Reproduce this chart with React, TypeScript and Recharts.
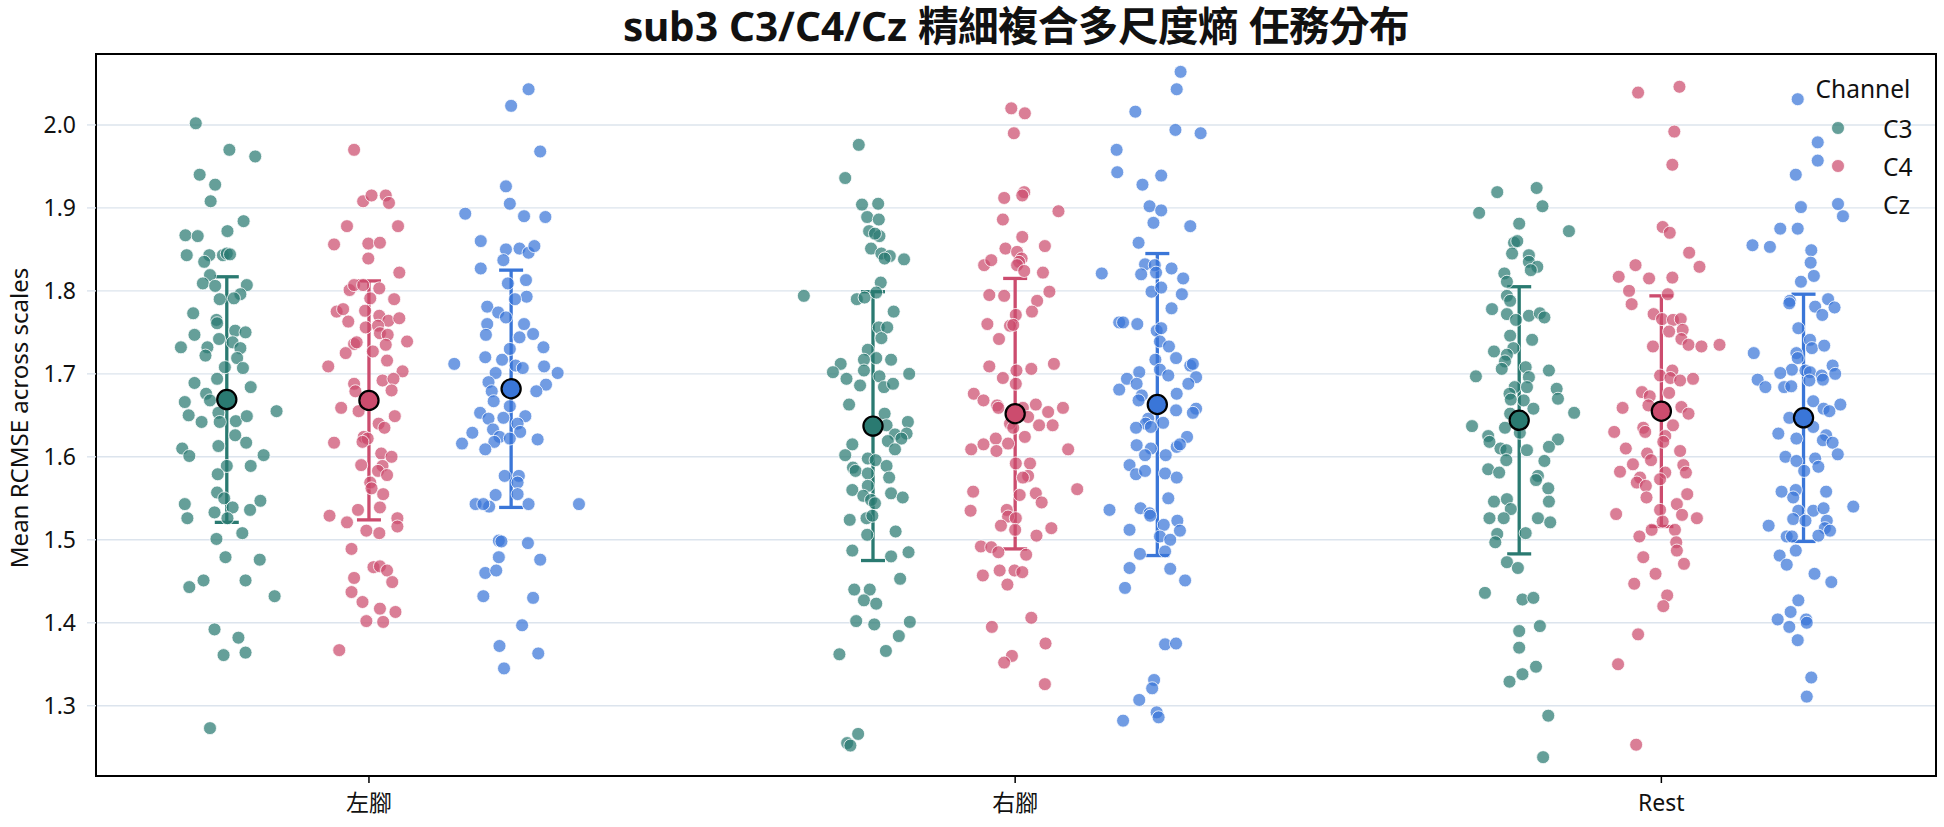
import React from 'react';
import { ScatterChart, Scatter, XAxis, YAxis, CartesianGrid, ErrorBar, ReferenceArea } from 'recharts';

const TITLE = 'sub3 C3/C4/Cz 精細複合多尺度熵 任務分布';
const Y_LABEL = 'Mean RCMSE across scales';
const LEGEND_TITLE = 'Channel';
const CATEGORIES = ['左腳', '右腳', 'Rest'];
const CHANNELS = ['C3', 'C4', 'Cz'];
const Y_TICKS = [1.3, 1.4, 1.5, 1.6, 1.7, 1.8, 1.9, 2.0];
const X_TICKS = [0, 1, 2];

// mean and SD per category (左腳, 右腳, Rest)
const C3_MEAN = [1.669, 1.637, 1.644];
const C3_SD = [0.148, 0.162, 0.161];
const C4_MEAN = [1.668, 1.652, 1.655];
const C4_SD = [0.144, 0.163, 0.139];
const CZ_MEAN = [1.682, 1.663, 1.647];
const CZ_SD = [0.143, 0.182, 0.149];

// individual trials: [jitter (category units), value]
const LEFT_C3: [number, number][] = [[-0.048,2.002],[0.004,1.970],[0.044,1.962],[-0.042,1.940],[-0.018,1.928],[-0.025,1.908],[0.026,1.884],[-0.064,1.867],[-0.045,1.866],[0.001,1.872],[-0.062,1.843],[-0.027,1.843],[-0.035,1.835],[-0.006,1.843],[0,1.845],[0.005,1.844],[-0.026,1.819],[-0.037,1.809],[-0.018,1.806],[0.031,1.807],[0.021,1.796],[-0.011,1.790],[0.011,1.791],[-0.052,1.773],[-0.016,1.765],[-0.015,1.761],[-0.050,1.747],[0.013,1.752],[0.029,1.750],[-0.071,1.732],[-0.030,1.732],[-0.012,1.742],[0.009,1.738],[0.021,1.731],[-0.033,1.722],[0.016,1.719],[-0.003,1.708],[0.025,1.707],[-0.050,1.689],[-0.032,1.676],[-0.015,1.694],[0.037,1.684],[-0.065,1.666],[-0.059,1.650],[-0.039,1.642],[-0.026,1.668],[-0.013,1.653],[-0.011,1.642],[0.014,1.643],[0.031,1.649],[0.077,1.655],[0.013,1.626],[-0.013,1.613],[0.030,1.617],[-0.069,1.610],[-0.058,1.601],[0.057,1.602],[0,1.589],[0.037,1.589],[-0.014,1.579],[-0.015,1.557],[-0.004,1.550],[-0.065,1.543],[0.009,1.539],[0.036,1.536],[0.052,1.547],[-0.061,1.526],[-0.019,1.533],[0.001,1.526],[-0.016,1.501],[0.024,1.508],[-0.002,1.479],[0.051,1.476],[-0.036,1.451],[-0.058,1.443],[0.029,1.451],[0.074,1.432],[-0.019,1.392],[0.018,1.382],[-0.005,1.361],[0.029,1.364],[-0.026,1.273]];
const LEFT_C4: [number, number][] = [[-0.023,1.970],[-0.009,1.908],[0.004,1.915],[0.026,1.915],[0.031,1.906],[-0.034,1.878],[0.045,1.878],[-0.054,1.856],[-0.001,1.857],[0.017,1.858],[-0.001,1.839],[0.047,1.822],[-0.030,1.801],[-0.023,1.807],[-0.009,1.807],[0.016,1.803],[0.002,1.791],[0.039,1.790],[-0.050,1.775],[-0.040,1.778],[-0.032,1.763],[-0.006,1.776],[0.016,1.770],[0.030,1.764],[0.047,1.767],[-0.005,1.756],[0.014,1.758],[0.017,1.749],[0.029,1.747],[-0.023,1.736],[-0.019,1.738],[0.006,1.727],[0.026,1.735],[0.059,1.739],[-0.036,1.725],[-0.063,1.709],[0.028,1.716],[0.052,1.703],[-0.023,1.688],[-0.021,1.679],[0.021,1.692],[0.038,1.694],[0.035,1.680],[-0.043,1.659],[-0.016,1.655],[0.040,1.649],[0.015,1.640],[0.024,1.635],[-0.008,1.624],[-0.002,1.622],[-0.054,1.617],[-0.010,1.618],[0.019,1.604],[0.035,1.600],[-0.012,1.590],[0.021,1.589],[0.014,1.583],[0.028,1.578],[0.002,1.569],[0.004,1.562],[0.022,1.555],[-0.017,1.536],[0.017,1.539],[-0.061,1.529],[-0.034,1.521],[0.044,1.526],[0.044,1.516],[-0.004,1.511],[0.016,1.508],[-0.027,1.489],[0.007,1.467],[0.017,1.468],[0.028,1.463],[-0.023,1.454],[0.036,1.449],[-0.027,1.437],[-0.010,1.425],[0.017,1.417],[0.041,1.413],[-0.004,1.402],[0.022,1.401],[-0.046,1.367]];
const LEFT_CZ: [number, number][] = [[0.027,2.043],[0,2.023],[0.045,1.968],[-0.008,1.926],[-0.002,1.905],[-0.071,1.893],[0.020,1.890],[0.053,1.889],[-0.047,1.860],[-0.008,1.850],[0.013,1.851],[0.027,1.846],[0.036,1.854],[-0.012,1.837],[-0.047,1.827],[-0.005,1.809],[0.023,1.813],[0.024,1.793],[0.006,1.790],[-0.037,1.781],[-0.020,1.774],[-0.008,1.768],[-0.037,1.760],[0.020,1.760],[-0.039,1.747],[0.013,1.744],[0.034,1.748],[0.050,1.732],[-0.002,1.730],[-0.088,1.712],[-0.040,1.720],[-0.014,1.717],[0.007,1.710],[0.018,1.707],[0.051,1.709],[0.072,1.701],[-0.024,1.701],[-0.035,1.690],[0.054,1.687],[0.039,1.679],[-0.030,1.679],[-0.027,1.667],[-0.002,1.661],[-0.048,1.653],[0.022,1.649],[-0.035,1.646],[-0.012,1.647],[0.010,1.640],[-0.060,1.629],[-0.028,1.633],[-0.018,1.624],[0.014,1.630],[-0.002,1.622],[0.041,1.621],[-0.076,1.616],[-0.026,1.618],[-0.040,1.609],[-0.010,1.577],[0.012,1.577],[0.010,1.569],[0.010,1.555],[-0.024,1.554],[-0.055,1.543],[-0.034,1.540],[-0.043,1.543],[0.027,1.543],[0.105,1.543],[-0.019,1.499],[-0.015,1.498],[0.026,1.496],[-0.019,1.479],[0.045,1.476],[-0.040,1.460],[-0.023,1.463],[-0.043,1.432],[0.034,1.430],[0.017,1.397],[-0.018,1.372],[0.042,1.363],[-0.011,1.345]];
const RIGHT_C3: [number, number][] = [[-0.022,1.976],[-0.043,1.936],[-0.017,1.904],[0.008,1.905],[-0.009,1.889],[0.009,1.886],[-0.006,1.872],[0.010,1.866],[0.003,1.869],[-0.003,1.851],[0.013,1.845],[0.026,1.842],[0.018,1.839],[0.048,1.838],[0.012,1.810],[-0.107,1.794],[-0.025,1.790],[-0.013,1.792],[0.005,1.798],[0.032,1.775],[0.009,1.756],[0.022,1.756],[0.013,1.743],[-0.008,1.729],[0.005,1.719],[-0.014,1.717],[0.028,1.717],[-0.050,1.712],[-0.062,1.702],[-0.014,1.704],[0.010,1.697],[0.056,1.700],[-0.041,1.694],[-0.020,1.686],[0.017,1.684],[0.031,1.688],[-0.037,1.663],[0.018,1.652],[0.021,1.638],[0.054,1.642],[0.034,1.627],[0.052,1.628],[0.023,1.619],[0.044,1.622],[0.034,1.609],[-0.032,1.615],[-0.043,1.602],[-0.008,1.598],[0.004,1.596],[-0.031,1.587],[-0.027,1.583],[0.021,1.589],[0.025,1.575],[-0.008,1.580],[-0.008,1.565],[-0.032,1.560],[-0.015,1.553],[0.028,1.556],[0.046,1.551],[-0.003,1.548],[0.003,1.544],[-0.036,1.524],[-0.010,1.526],[-0.001,1.529],[0.035,1.510],[-0.009,1.506],[-0.032,1.487],[0.028,1.480],[0.055,1.485],[0.042,1.453],[-0.029,1.440],[-0.005,1.440],[-0.014,1.427],[0.005,1.423],[-0.026,1.402],[0.002,1.398],[0.057,1.401],[0.040,1.384],[-0.052,1.362],[0.020,1.366],[-0.023,1.266],[-0.040,1.255],[-0.035,1.252]];
const RIGHT_C4: [number, number][] = [[-0.006,2.020],[0.015,2.014],[-0.002,1.990],[0.014,1.919],[0.011,1.915],[-0.017,1.912],[0.067,1.896],[-0.019,1.886],[0.011,1.865],[-0.015,1.851],[0.003,1.847],[0.046,1.854],[-0.048,1.831],[-0.037,1.837],[0.010,1.839],[0.006,1.835],[0.003,1.831],[0.014,1.824],[0.043,1.822],[-0.040,1.795],[-0.017,1.794],[0.053,1.799],[0.034,1.788],[0.001,1.771],[0.026,1.775],[-0.043,1.760],[-0.008,1.758],[-0.003,1.759],[-0.025,1.742],[-0.040,1.709],[0.002,1.704],[0.025,1.706],[0.060,1.712],[-0.019,1.695],[0.001,1.688],[-0.064,1.676],[-0.049,1.668],[-0.028,1.662],[-0.026,1.659],[0.012,1.659],[0.032,1.663],[0.051,1.654],[0.074,1.659],[-0.008,1.640],[0.020,1.648],[0.037,1.638],[0.058,1.638],[-0.003,1.635],[0.015,1.624],[-0.030,1.622],[-0.011,1.616],[-0.068,1.609],[-0.049,1.615],[-0.029,1.607],[0.082,1.609],[0.001,1.592],[0.023,1.592],[0.020,1.577],[0.012,1.575],[-0.065,1.558],[0.007,1.554],[0.032,1.556],[0.041,1.545],[0.096,1.561],[-0.069,1.535],[-0.013,1.536],[-0.011,1.528],[0.001,1.526],[-0.022,1.517],[0,1.512],[0.056,1.514],[0.033,1.505],[-0.053,1.492],[-0.037,1.491],[-0.026,1.485],[0.017,1.482],[-0.050,1.457],[-0.024,1.463],[-0.001,1.463],[0.011,1.461],[-0.012,1.446],[0.025,1.406],[-0.036,1.395],[0.047,1.375],[-0.005,1.360],[-0.017,1.352],[0.046,1.326]];
const RIGHT_CZ: [number, number][] = [[0.036,2.064],[0.030,2.043],[-0.034,2.016],[0.028,1.994],[0.067,1.990],[-0.063,1.970],[-0.062,1.943],[0.006,1.939],[-0.023,1.928],[-0.012,1.902],[0.006,1.897],[-0.006,1.882],[0.051,1.878],[-0.029,1.858],[-0.086,1.821],[-0.019,1.832],[-0.004,1.831],[-0.002,1.822],[-0.025,1.820],[0.022,1.827],[0.040,1.815],[-0.009,1.799],[0.006,1.804],[0.038,1.796],[0.022,1.779],[-0.059,1.762],[-0.053,1.762],[-0.031,1.760],[-0.001,1.752],[0.006,1.755],[0.004,1.739],[0.018,1.733],[0.029,1.719],[-0.003,1.717],[0.051,1.710],[0.055,1.712],[0.004,1.705],[-0.028,1.702],[-0.047,1.694],[0.017,1.698],[0.060,1.696],[-0.032,1.688],[0.048,1.688],[-0.059,1.681],[-0.024,1.674],[0.030,1.676],[-0.029,1.668],[0.029,1.656],[0.060,1.658],[0.055,1.653],[-0.014,1.646],[-0.018,1.640],[0.009,1.641],[-0.033,1.635],[-0.010,1.636],[0.046,1.624],[-0.032,1.614],[-0.010,1.610],[0.030,1.612],[0.035,1.615],[-0.019,1.602],[0.013,1.602],[-0.043,1.590],[-0.033,1.579],[-0.019,1.583],[0.012,1.580],[0.030,1.575],[0.017,1.550],[-0.074,1.536],[-0.026,1.538],[-0.012,1.532],[-0.011,1.529],[0.031,1.523],[0.010,1.518],[0.035,1.511],[-0.043,1.512],[0.004,1.504],[0.020,1.500],[0.012,1.486],[-0.027,1.483],[-0.043,1.466],[0.020,1.465],[0.043,1.451],[-0.050,1.442],[0.012,1.374],[0.029,1.375],[-0.005,1.331],[-0.008,1.321],[-0.028,1.307],[-0.001,1.292],[0.002,1.286],[-0.053,1.282]];
const REST_C3: [number, number][] = [[-0.034,1.919],[0.027,1.924],[-0.062,1.894],[0.036,1.902],[0,1.881],[0.077,1.872],[-0.008,1.858],[-0.003,1.860],[-0.011,1.845],[0.015,1.843],[0.015,1.835],[0.028,1.829],[0.018,1.825],[-0.023,1.821],[-0.019,1.811],[-0.019,1.794],[-0.014,1.788],[-0.042,1.778],[-0.019,1.772],[0.015,1.770],[0.032,1.773],[0.039,1.768],[-0.005,1.765],[-0.014,1.746],[0.020,1.741],[-0.009,1.731],[-0.039,1.727],[-0.019,1.723],[-0.022,1.715],[-0.027,1.706],[0.010,1.708],[0.046,1.704],[-0.067,1.697],[0.015,1.696],[-0.007,1.684],[0.012,1.684],[0.058,1.682],[-0.015,1.676],[0.060,1.670],[-0.013,1.669],[0.007,1.668],[0.022,1.658],[-0.014,1.652],[0.085,1.653],[-0.073,1.637],[-0.022,1.635],[-0.048,1.625],[-0.046,1.618],[0.001,1.629],[0.060,1.621],[0.046,1.612],[-0.029,1.610],[-0.020,1.608],[0.012,1.608],[-0.020,1.596],[0.039,1.595],[-0.048,1.585],[-0.031,1.581],[0.029,1.577],[0.026,1.572],[0.045,1.562],[-0.039,1.546],[-0.019,1.549],[-0.013,1.537],[0.046,1.546],[-0.046,1.526],[-0.024,1.526],[0.029,1.526],[0.048,1.521],[-0.034,1.507],[0.010,1.508],[-0.037,1.497],[-0.019,1.473],[-0.002,1.466],[-0.053,1.436],[0.005,1.428],[0.022,1.430],[0.032,1.396],[0,1.390],[0,1.370],[0.026,1.347],[0.005,1.338],[-0.015,1.329],[0.045,1.288],[0.037,1.238]];
const REST_C4: [number, number][] = [[0.028,2.046],[-0.036,2.039],[0.020,1.992],[0.017,1.952],[0.002,1.877],[0.013,1.870],[0.043,1.846],[0.059,1.829],[-0.040,1.831],[-0.066,1.817],[-0.019,1.815],[0.017,1.816],[-0.050,1.800],[0.010,1.796],[-0.046,1.784],[-0.012,1.772],[0.001,1.766],[0.018,1.765],[0.030,1.766],[0.012,1.751],[0.033,1.753],[0.031,1.742],[-0.013,1.733],[0.042,1.735],[0.062,1.733],[0.090,1.735],[0.017,1.704],[-0.002,1.698],[0.014,1.695],[0.029,1.692],[0.049,1.694],[-0.030,1.678],[-0.018,1.673],[0.012,1.677],[-0.020,1.662],[-0.060,1.659],[0.031,1.660],[0.042,1.652],[0.018,1.638],[-0.073,1.630],[-0.028,1.635],[-0.025,1.630],[0.006,1.625],[0.003,1.618],[-0.055,1.610],[-0.022,1.604],[0.029,1.607],[-0.016,1.596],[-0.044,1.591],[0.034,1.590],[-0.064,1.582],[0.006,1.581],[0.038,1.581],[-0.033,1.575],[-0.038,1.569],[-0.024,1.565],[-0.002,1.573],[0.040,1.555],[-0.023,1.551],[0.024,1.543],[-0.070,1.531],[-0.002,1.536],[0.032,1.530],[0.055,1.526],[0.002,1.522],[-0.015,1.512],[0.021,1.512],[-0.034,1.504],[0.023,1.497],[0.024,1.487],[-0.028,1.479],[0.035,1.471],[-0.009,1.459],[-0.042,1.447],[0.009,1.433],[0.003,1.420],[-0.036,1.386],[-0.067,1.350],[-0.039,1.253]];
const REST_CZ: [number, number][] = [[-0.009,2.031],[0.022,1.979],[0.022,1.957],[-0.012,1.940],[-0.004,1.901],[0.061,1.890],[-0.036,1.875],[-0.009,1.875],[-0.079,1.855],[-0.052,1.853],[0.012,1.849],[0.011,1.834],[0.016,1.818],[-0.004,1.811],[-0.021,1.788],[0.038,1.790],[-0.022,1.785],[0.018,1.781],[0.048,1.780],[0.029,1.771],[-0.008,1.755],[0.010,1.741],[0.013,1.731],[0.032,1.734],[-0.077,1.725],[-0.011,1.725],[-0.009,1.719],[0.045,1.710],[-0.018,1.705],[0.003,1.704],[-0.036,1.701],[0.010,1.702],[0.028,1.698],[0.049,1.700],[-0.071,1.693],[-0.059,1.684],[-0.030,1.684],[-0.019,1.685],[0.009,1.692],[0.030,1.693],[0.015,1.667],[0.057,1.663],[0.031,1.658],[0.040,1.655],[-0.022,1.647],[0.015,1.636],[-0.039,1.628],[-0.011,1.622],[0.035,1.626],[0.030,1.620],[0.045,1.617],[0.053,1.603],[-0.028,1.600],[-0.011,1.595],[0.018,1.598],[0.023,1.588],[0.001,1.583],[-0.034,1.558],[-0.012,1.560],[-0.016,1.551],[0.035,1.558],[0.077,1.540],[0.015,1.535],[0.031,1.538],[-0.008,1.535],[-0.016,1.525],[0.003,1.523],[0.036,1.523],[-0.054,1.517],[0.033,1.514],[0.041,1.511],[-0.026,1.504],[-0.018,1.504],[0.023,1.505],[-0.037,1.481],[-0.012,1.487],[-0.026,1.470],[0.017,1.459],[0.043,1.449],[-0.008,1.427],[-0.020,1.413],[-0.040,1.404],[-0.022,1.395],[0.004,1.404],[0.005,1.400],[-0.009,1.379],[0.012,1.334],[0.005,1.311]];

// ---------- styling / layout ----------
const FONT = '"Noto Sans", "Noto Sans CJK TC", sans-serif';
const TITLE_FONT = 'TitleLatin, TitleCJK, "Noto Sans", "Noto Sans CJK TC", sans-serif';
const FONT_FACES = `
@font-face { font-family: 'TitleLatin'; src: local('Noto Sans Bold'), local('NotoSans-Bold'); font-weight: 700; ascent-override: 92%; descent-override: 24%; line-gap-override: 0%; }
@font-face { font-family: 'TitleCJK'; src: local('Noto Sans CJK TC Bold'), local('NotoSansCJKtc-Bold'), local('Noto Sans CJK TC'); font-weight: 700; ascent-override: 92%; descent-override: 24%; line-gap-override: 0%; }
`;
const COLORS = ['#2a7a71', '#cc4c6e', '#3a76d8'];
const CHANNEL_OFFSET = [-0.22, 0, 0.22];
const X_DOMAIN: [number, number] = [-0.4224, 2.425];
const Y_DOMAIN: [number, number] = [1.2153, 2.0855];
const W = 1944;
const H = 827;

const TRIALS = [
  [LEFT_C3, RIGHT_C3, REST_C3],
  [LEFT_C4, RIGHT_C4, REST_C4],
  [LEFT_CZ, RIGHT_CZ, REST_CZ],
];
const MEANS = [C3_MEAN, C4_MEAN, CZ_MEAN];
const SDS = [C3_SD, C4_SD, CZ_SD];

const pointData = TRIALS.map((groups, ch) =>
  groups.flatMap((g, ci) => g.map(([j, v]) => ({ x: ci + CHANNEL_OFFSET[ch] + j, y: v })))
);
const meanData = MEANS.map((m, ch) =>
  m.map((v, ci) => ({ x: ci + CHANNEL_OFFSET[ch], y: v, sd: SDS[ch][ci] }))
);

const makeDot = (color: string) => (props: any) => (
  <circle cx={props.cx} cy={props.cy} r={6.5} fill={color} fillOpacity={0.72} stroke="#ffffff" strokeWidth={0.8} />
);
const makeMean = (color: string) => (props: any) => (
  <circle cx={props.cx} cy={props.cy} r={9.6} fill={color} stroke="#000000" strokeWidth={2.2} />
);

export default function App() {
  return (
    <div style={{ position: 'absolute', left: 0, top: 0, width: W, height: H, background: '#fff', fontFamily: FONT, overflow: 'hidden' }}>
      <style>{FONT_FACES}</style>
      <ScatterChart width={W} height={H} margin={{ top: 54, right: 8, bottom: 0, left: 0 }}>
        <CartesianGrid vertical={false} stroke="#dce4ed" strokeWidth={1.4} />
        <XAxis
          type="number"
          dataKey="x"
          domain={X_DOMAIN}
          allowDataOverflow
          ticks={X_TICKS}
          interval={0}
          height={51}
          axisLine={false}
          tickLine={{ stroke: '#000', strokeWidth: 1.5 }}
          tickSize={7}
          tickMargin={12}
          tick={{ fontSize: 23, fill: '#111', fontFamily: FONT }}
          tickFormatter={(v: number) => CATEGORIES[Math.round(v)] ?? ''}
        />
        <YAxis
          type="number"
          dataKey="y"
          domain={Y_DOMAIN}
          allowDataOverflow
          ticks={Y_TICKS}
          interval={0}
          width={96}
          axisLine={false}
          tickLine={{ stroke: '#dce4ed', strokeWidth: 1.4 }}
          tickSize={9}
          tickMargin={11}
          tick={{ fontSize: 23, fill: '#111', fontFamily: FONT }}
          tickFormatter={(v: number) => v.toFixed(1)}
        />
        {pointData.map((d, ch) => (
          <Scatter key={'p' + ch} name={CHANNELS[ch]} data={d} shape={makeDot(COLORS[ch])} isAnimationActive={false} />
        ))}
        {meanData.map((d, ch) => (
          <Scatter key={'m' + ch} name={CHANNELS[ch] + ' mean'} data={d} shape={makeMean(COLORS[ch])} isAnimationActive={false}>
            <ErrorBar dataKey="sd" direction="y" width={12} stroke={COLORS[ch]} strokeWidth={3.3} isAnimationActive={false} />
          </Scatter>
        ))}
        <ReferenceArea
          x1={X_DOMAIN[0]}
          x2={X_DOMAIN[1]}
          y1={Y_DOMAIN[0]}
          y2={Y_DOMAIN[1]}
          fill="none"
          fillOpacity={0}
          stroke="#000"
          strokeWidth={2}
          ifOverflow="visible"
        />
      </ScatterChart>

      {/* title: baseline near y = 41 */}
      <div style={{ position: 'absolute', left: 96, width: 1840, top: 4, textAlign: 'center', fontFamily: TITLE_FONT, fontSize: 40.5, lineHeight: '47px', fontWeight: 700, color: '#111', whiteSpace: 'nowrap' }}>
        {TITLE}
      </div>

      {/* y axis label */}
      <div style={{ position: 'absolute', left: 19, top: 418, transform: 'translate(-50%, -50%) rotate(-90deg)', fontSize: 24, lineHeight: '24px', color: '#111', whiteSpace: 'nowrap' }}>
        {Y_LABEL}
      </div>

      {/* legend */}
      <div style={{ position: 'absolute', left: 1863, top: 88, transform: 'translate(-50%, -50%)', fontSize: 24.5, lineHeight: '25px', color: '#111', whiteSpace: 'nowrap' }}>
        {LEGEND_TITLE}
      </div>
      {CHANNELS.map((c, i) => (
        <div key={c}>
          <svg style={{ position: 'absolute', left: 1831, top: 121 + i * 38 }} width={14} height={14}>
            <circle cx={7} cy={7} r={6.5} fill={COLORS[i]} fillOpacity={0.72} stroke="#fff" strokeWidth={0.8} />
          </svg>
          <div style={{ position: 'absolute', left: 1883, top: 128 + i * 38, transform: 'translateY(-50%)', fontSize: 24.5, lineHeight: '25px', color: '#111', whiteSpace: 'nowrap' }}>
            {c}
          </div>
        </div>
      ))}
    </div>
  );
}
